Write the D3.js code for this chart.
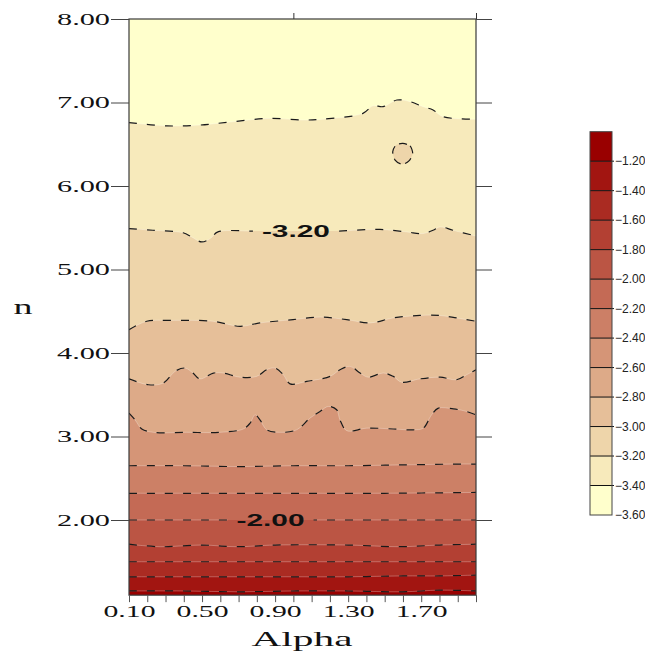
<!DOCTYPE html>
<html><head><meta charset="utf-8">
<script src="https://cdn.jsdelivr.net/npm/d3@7"></script>
<style>body{margin:0;background:#fff}svg{display:block}</style>
</head><body>
<svg id="chart" width="645" height="652"></svg>
<script>
// ---------- DATA ----------
const alphaDomain = [0.1, 2.0];
const nDomain = [1.1, 8.0];
const yTickValues = [2, 3, 4, 5, 6, 7, 8];
const xTickValues = [0.1,0.2,0.3,0.4,0.5,0.6,0.7,0.8,0.9,1.0,1.1,1.2,1.3,1.4,1.5,1.6,1.7,1.8,1.9,2.0];
const xLabelValues = [0.1, 0.5, 0.9, 1.3, 1.7];
const topTickValues = [1.0, 2.0];
const levelValues = [-1.2,-1.4,-1.6,-1.8,-2.0,-2.2,-2.4,-2.6,-2.8,-3.0,-3.2,-3.4];
const colorbarLabels = [-1.2,-1.4,-1.6,-1.8,-2.0,-2.2,-2.4,-2.6,-2.8,-3.0,-3.2,-3.4,-3.6];
const colorbarDomain = [-3.6, -1.0];

// contour lines: [alpha, n]
const contour_m120 = [[0.10,1.15],[0.40,1.15],[0.70,1.14],[1.00,1.15],[1.30,1.15],[1.60,1.14],[1.80,1.16],[2.00,1.15]];
const contour_m140 = [[0.10,1.32],[0.40,1.32],[0.70,1.32],[1.00,1.32],[1.30,1.32],[1.60,1.33],[1.80,1.33],[2.00,1.34]];
const contour_m160 = [[0.10,1.50],[0.40,1.50],[0.70,1.50],[1.00,1.50],[1.30,1.50],[1.60,1.50],[2.00,1.50]];
const contour_m180 = [[0.10,1.71],[0.27,1.68],[0.50,1.70],[0.69,1.68],[0.90,1.70],[1.30,1.70],[1.58,1.68],[1.80,1.70],[2.00,1.71]];
const contour_m200 = [[0.10,2.00],[0.50,2.00],[1.00,2.00],[1.50,2.00],[2.00,2.00]];
const contour_m220 = [[0.10,2.32],[0.50,2.32],[1.00,2.32],[1.50,2.32],[2.00,2.33]];
const contour_m240 = [[0.10,2.65],[0.40,2.65],[0.70,2.64],[1.00,2.65],[1.30,2.65],[1.60,2.66],[1.90,2.67],[2.00,2.67]];
const contour_m260 = [[0.10,3.28],[0.133,3.20],[0.170,3.09],[0.233,3.05],[0.416,3.05],[0.598,3.05],[0.726,3.09],[0.763,3.16],[0.790,3.26],[0.817,3.20],[0.854,3.08],[0.927,3.05],[1.018,3.08],[1.091,3.22],[1.146,3.30],[1.191,3.36],[1.237,3.32],[1.255,3.20],[1.292,3.07],[1.402,3.10],[1.547,3.09],[1.657,3.08],[1.711,3.10],[1.757,3.26],[1.794,3.34],[1.876,3.33],[1.931,3.31],[2.00,3.26]];
const contour_m280 = [[0.10,3.69],[0.206,3.62],[0.288,3.64],[0.352,3.78],[0.407,3.82],[0.450,3.76],[0.489,3.69],[0.562,3.76],[0.616,3.76],[0.708,3.71],[0.799,3.72],[0.854,3.80],[0.899,3.82],[0.945,3.74],[0.982,3.63],[1.073,3.66],[1.201,3.72],[1.255,3.80],[1.310,3.84],[1.365,3.76],[1.410,3.71],[1.492,3.76],[1.547,3.72],[1.593,3.65],[1.693,3.69],[1.803,3.71],[1.894,3.68],[1.949,3.74],[2.00,3.80]];
const contour_m300 = [[0.10,4.28],[0.197,4.38],[0.325,4.39],[0.560,4.38],[0.708,4.32],[0.817,4.36],[0.998,4.40],[1.146,4.43],[1.292,4.40],[1.420,4.36],[1.546,4.42],[1.693,4.45],[1.803,4.45],[1.894,4.42],[2.00,4.38]];
const contour_m320 = [[0.10,5.49],[0.231,5.47],[0.396,5.44],[0.443,5.39],[0.498,5.33],[0.544,5.37],[0.587,5.45],[0.779,5.46],[1.014,5.46],[1.237,5.46],[1.474,5.48],[1.621,5.45],[1.710,5.43],[1.765,5.47],[1.803,5.51],[1.874,5.47],[2.00,5.40]];
const contour_m340 = [[0.10,6.76],[0.306,6.72],[0.489,6.73],[0.669,6.77],[0.872,6.81],[1.053,6.79],[1.162,6.80],[1.381,6.87],[1.436,6.96],[1.491,6.95],[1.567,7.03],[1.639,7.01],[1.710,6.95],[1.765,6.91],[1.819,6.83],[2.00,6.80]];
// small closed contour (level -3.20 island)
const island_m320 = [[1.599,6.51],[1.639,6.48],[1.653,6.39],[1.633,6.30],[1.595,6.26],[1.557,6.31],[1.544,6.41],[1.562,6.49]];

const contourLabels = [
  {text: "-3.20", alpha: 1.014, n: 5.46},
  {text: "-2.00", alpha: 0.875, n: 2.00}
];

// ---------- CHART ----------
const svg = d3.select("#chart");
const L = 129, R = 476, T = 19, B = 595.15;
const x = d3.scaleLinear().domain(alphaDomain).range([L, R]);
const y = d3.scaleLinear().domain(nDomain).range([B, T]);
const color = d3.scaleLinear().domain([-3.5, -1.1]).range(["#ffffcc", "#990000"]).interpolate(d3.interpolateRgb);

const contours = [
  [-1.2, contour_m120],[-1.4, contour_m140],[-1.6, contour_m160],[-1.8, contour_m180],
  [-2.0, contour_m200],[-2.2, contour_m220],[-2.4, contour_m240],[-2.6, contour_m260],
  [-2.8, contour_m280],[-3.0, contour_m300],[-3.2, contour_m320],[-3.4, contour_m340]
];

const defs = svg.append("defs");
defs.append("clipPath").attr("id", "plotclip").append("rect")
  .attr("x", L).attr("y", T).attr("width", R - L).attr("height", B - T);

const mask = defs.append("mask").attr("id", "labelmask").attr("maskUnits", "userSpaceOnUse")
  .attr("x", 0).attr("y", 0).attr("width", 645).attr("height", 652);
mask.append("rect").attr("x", 0).attr("y", 0).attr("width", 645).attr("height", 652).attr("fill", "#fff");
contourLabels.forEach(d => {
  mask.append("rect").attr("x", x(d.alpha) - 43).attr("y", y(d.n) - 10)
    .attr("width", 86).attr("height", 20).attr("fill", "#000");
});

const plot = svg.append("g").attr("clip-path", "url(#plotclip)");
plot.append("rect").attr("x", L).attr("y", T).attr("width", R - L).attr("height", B - T)
  .attr("fill", color(-1.1));

const curve = d3.curveCatmullRom.alpha(0.5);
const area = d3.area().x(d => x(d[0])).y0(y(nDomain[1]) - 2).y1(d => y(d[1])).curve(curve);
const line = d3.line().x(d => x(d[0])).y(d => y(d[1])).curve(curve);
const closedLine = d3.line().x(d => x(d[0])).y(d => y(d[1])).curve(d3.curveCardinalClosed.tension(0.2));

// filled bands
contours.forEach(([lev, pts]) => {
  plot.append("path").attr("d", area(pts)).attr("fill", color(lev - 0.1)).attr("stroke", "none");
});
plot.append("path").attr("d", closedLine(island_m320)).attr("fill", color(-3.1));

// contour lines
const lines = plot.append("g").attr("mask", "url(#labelmask)");
contours.forEach(([lev, pts]) => {
  lines.append("path").attr("d", line(pts)).attr("fill", "none")
    .attr("stroke", "rgba(255,255,255,0.28)").attr("stroke-width", 1);
  lines.append("path").attr("d", line(pts)).attr("fill", "none")
    .attr("stroke", "#1a1a1a").attr("stroke-width", 1.2).attr("stroke-dasharray", "8,10");
});
lines.append("path").attr("d", closedLine(island_m320)).attr("fill", "none")
  .attr("stroke", "#1a1a1a").attr("stroke-width", 1.2).attr("stroke-dasharray", "8,5");

// contour labels
contourLabels.forEach(d => {
  svg.append("text").attr("x", x(d.alpha)).attr("y", y(d.n) + 6)
    .attr("text-anchor", "middle")
    .attr("font-family", "'Liberation Sans', Arial, sans-serif").attr("font-weight", "bold")
    .attr("font-size", 17).attr("fill", "#111")
    .attr("textLength", 68).attr("lengthAdjust", "spacingAndGlyphs")
    .text(d.text);
});

// plot border
svg.append("rect").attr("x", L).attr("y", T).attr("width", R - L).attr("height", B - T)
  .attr("fill", "none").attr("stroke", "#3a3a3a").attr("stroke-width", 1.2);

// axes
const serif = "'Liberation Serif', 'Times New Roman', serif";
const yAxis = svg.append("g").attr("transform", `translate(${L},0)`)
  .call(d3.axisLeft(y).tickValues(yTickValues).tickSize(18).tickPadding(1).tickFormat(d3.format(".2f")));
yAxis.select(".domain").remove();
yAxis.selectAll(".tick line").attr("stroke", "#444");
yAxis.selectAll(".tick text").attr("font-family", serif).attr("font-size", 16).attr("fill", "#111")
  .attr("textLength", 53).attr("lengthAdjust", "spacingAndGlyphs").attr("dy", "0.34em");

const yAxisR = svg.append("g").attr("transform", `translate(${R},0)`)
  .call(d3.axisRight(y).tickValues(yTickValues).tickSize(16).tickFormat(""));
yAxisR.select(".domain").remove();
yAxisR.selectAll(".tick line").attr("stroke", "#444");

const isLabel = v => xLabelValues.some(l => Math.abs(l - v) < 1e-6);
const xAxis = svg.append("g").attr("transform", `translate(0,${B})`)
  .call(d3.axisBottom(x).tickValues(xTickValues).tickSize(7).tickPadding(3)
    .tickFormat(v => isLabel(v) ? d3.format(".2f")(v) : ""));
xAxis.select(".domain").remove();
xAxis.selectAll(".tick line").attr("stroke", "#555");
xAxis.selectAll(".tick text").filter(v => isLabel(v))
  .attr("font-family", serif).attr("font-size", 17).attr("fill", "#111")
  .attr("textLength", 52).attr("lengthAdjust", "spacingAndGlyphs");

const xAxisT = svg.append("g").attr("transform", `translate(0,${T})`)
  .call(d3.axisTop(x).tickValues(topTickValues).tickSize(6).tickFormat(""));
xAxisT.select(".domain").remove();
xAxisT.selectAll(".tick line").attr("stroke", "#333");

// axis titles
svg.append("text").attr("x", 302).attr("y", 646).attr("text-anchor", "middle")
  .attr("font-family", serif).attr("font-size", 21).attr("fill", "#111")
  .attr("textLength", 101).attr("lengthAdjust", "spacingAndGlyphs").text("Alpha");
svg.append("text").attr("x", 23).attr("y", 314).attr("text-anchor", "middle")
  .attr("font-family", serif).attr("font-size", 20).attr("fill", "#111")
  .attr("textLength", 19).attr("lengthAdjust", "spacingAndGlyphs").text("n");

// colorbar
const cbX = 590, cbW = 22, cbTop = 131.7, cbBot = 515;
const cy = d3.scaleLinear().domain(colorbarDomain).range([cbBot, cbTop]);
const cb = svg.append("g");
const bands = d3.range(colorbarDomain[0], colorbarDomain[1] - 0.1, 0.2);
cb.selectAll("rect.band").data(bands).join("rect").attr("class", "band")
  .attr("x", cbX).attr("width", cbW)
  .attr("y", d => cy(d + 0.2)).attr("height", d => cy(d) - cy(d + 0.2))
  .attr("fill", d => color(d + 0.1));
cb.selectAll("line.sep").data(colorbarLabels.slice(0, -1)).join("line").attr("class", "sep")
  .attr("x1", cbX).attr("x2", cbX + cbW + 2).attr("y1", d => cy(d)).attr("y2", d => cy(d))
  .attr("stroke", "#111").attr("stroke-width", 1);
cb.append("rect").attr("x", cbX).attr("y", cbTop).attr("width", cbW).attr("height", cbBot - cbTop)
  .attr("fill", "none").attr("stroke", "#444").attr("stroke-width", 1);
cb.selectAll("text").data(colorbarLabels).join("text")
  .attr("x", cbX + cbW + 3).attr("y", d => cy(d)).attr("dy", "0.35em")
  .attr("font-family", "'Liberation Sans', Arial, sans-serif").attr("font-size", 12).attr("fill", "#222")
  .text(d => d3.format(".2f")(d));
</script>
</body></html>
